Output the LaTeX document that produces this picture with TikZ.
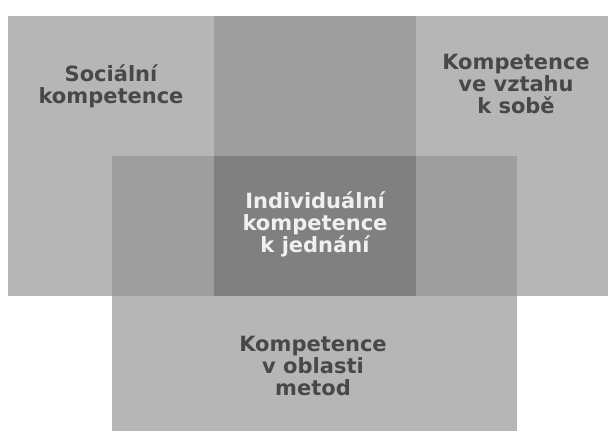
\documentclass[tikz,border=0pt]{standalone}
\usepackage{fontspec}
\usepackage{tikz}
\newfontfamily\lblfont{DejaVu Sans}
\definecolor{lightgr}{HTML}{B6B6B6}
\definecolor{midgr}{HTML}{9E9E9E}
\definecolor{darkgr}{HTML}{808080}
\definecolor{txtgr}{HTML}{484848}

\begin{document}
\begin{tikzpicture}[x=1pt,y=-1pt]

  \tikzstyle{label}=[align=center,font=\lblfont\bfseries\fontsize{21}{22}\selectfont,
                     text=txtgr,inner sep=0pt]

  \useasboundingbox (0,0) rectangle (608,433);

  % three fields
  \fill[lightgr] (8,16)    rectangle (416,296);
  \fill[lightgr] (214,16)  rectangle (608,296);
  \fill[lightgr] (112,156) rectangle (517,431);
  % overlaps
  \fill[midgr]   (214,16)  rectangle (416,296);
  \fill[midgr]   (112,156) rectangle (517,296);
  \fill[darkgr]  (214,156) rectangle (416,296);

  \node[label]                 (soc)  at (111,86)  {Sociální\\kompetence};
  \node[label]                 (self) at (516,84)  {Kompetence\\ve vztahu\\k sobě};
  \node[label, text=white!94!black] (ind) at (315,224) {Individuální\\kompetence\\k jednání};
  \node[label]                 (met)  at (313,366) {Kompetence\\v oblasti\\metod};
\end{tikzpicture}
\end{document}
